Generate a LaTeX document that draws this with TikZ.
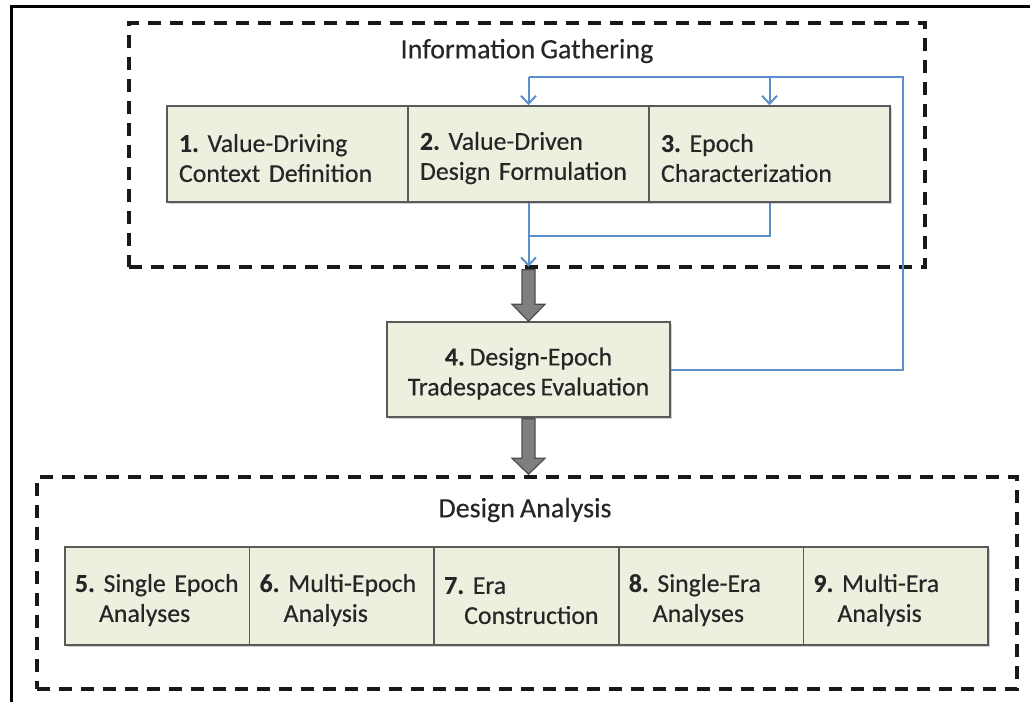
\documentclass[tikz,border=0pt]{standalone}
\usepackage{fontspec}
\setmainfont{Carlito}[WordSpace=0.8, FakeBold=0.35]
\usetikzlibrary{arrows.meta,calc,shadows}
\definecolor{boxfill}{HTML}{EBF1DE}
\definecolor{boxline}{HTML}{5A5A5A}
\definecolor{fbblue}{HTML}{5B8FCB}
\definecolor{gfill}{HTML}{7F7F7F}
\definecolor{gline}{HTML}{4D4D4D}
\newcommand\liftstrut{\rule{0pt}{26pt}}
\frenchspacing
\tikzset{
  groupbox/.style={draw=black!90, line width=3.5pt, dash pattern=on 13pt off 9pt, inner sep=0pt},
  grouptitle/.style={font=\fontsize{28}{32}\selectfont, inner sep=0pt, text=black!85},
  stepbox/.style={draw=boxline, line width=1.6pt, fill=boxfill, inner sep=0pt, text=black!85,
     drop shadow={shadow xshift=1.5pt, shadow yshift=-2pt, fill=black!30, opacity=0.6},
     font=\fontsize{25.8}{30}\selectfont},
  topbox/.style={stepbox, minimum width=241pt, minimum height=96pt, text width=217pt, align=left},
  botbox/.style={stepbox, minimum width=184.6pt, minimum height=98pt, text width=164.6pt, align=left},
  fb/.style={draw=fbblue, line width=2pt},
  fbarrow/.style={fb, -{Straight Barb[length=8pt,width=15pt]}},
  garrow/.style={fill=gfill, draw=gline, line width=1.2pt, line join=miter},
}
\begin{document}
\begin{tikzpicture}[x=1pt,y=-1pt]
\useasboundingbox (0,0) rectangle (1030,702);
% outer frame (left and top edges)
\draw[line width=3pt] (11,702) -- (11,6) -- (1030,6);

% group boxes
\node[groupbox, minimum width=796pt, minimum height=244pt] (ig) at (527,145) {};
\node[grouptitle] (igt) at (527,51) {Information Gathering};
\node[groupbox, minimum width=980pt, minimum height=212pt] (da) at (527,583) {};
\node[grouptitle] (dat) at (525,510) {Design Analysis};

% top row
\node[topbox] (b1) at (287.5,154) {\liftstrut\mbox{\textbf{1.} Value-Driving}\\\mbox{Context Definition}};
\node[topbox] (b2) at (528.5,154) {\liftstrut\mbox{\textbf{2.} Value-Driven}\\\mbox{Design Formulation}};
\node[topbox] (b3) at (769.5,154) {\liftstrut\mbox{\textbf{3.} Epoch}\\\mbox{Characterization}};

% middle box
\node[stepbox, minimum width=283pt, minimum height=95pt, align=center] (b4) at (528.5,369.5)
  {\liftstrut\textbf{4.} Design-Epoch\\Tradespaces Evaluation};

% bottom row
\node[botbox] (b5) at (157.3,596) {\liftstrut\mbox{\textbf{5.} Single Epoch}\\\mbox{\hspace*{24pt}Analyses}};
\node[botbox] (b6) at (341.9,596) {\liftstrut\mbox{\textbf{6.} Multi-Epoch}\\\mbox{\hspace*{24pt}Analysis}};
\node[botbox] (b7) at (526.5,596) {\liftstrut\mbox{\textbf{7.} Era}\\\mbox{\hspace*{20pt}Construction}};
\node[botbox] (b8) at (711.1,596) {\liftstrut\mbox{\textbf{8.} Single-Era}\\\mbox{\hspace*{24pt}Analyses}};
\node[botbox] (b9) at (895.7,596) {\liftstrut\mbox{\textbf{9.} Multi-Era}\\\mbox{\hspace*{24pt}Analysis}};

% blue connectors
\coordinate (igb) at (ig.south -| b2.south);
\coordinate (mid) at ($(b2.south)!0.5!(igb)$);
\draw[fbarrow] (b2.south) -- ($(igb)+(0,-2)$);
\draw[fb] (b3.south) |- (mid);
\coordinate (fbtop) at (903,77);
\draw[fb] (b4.east) -| (fbtop) -- (b2.north |- fbtop);
\draw[fbarrow] (b2.north |- fbtop) -- (b2.north);
\draw[fbarrow] (b3.north |- fbtop) -- (b3.north);

% gray block arrows
\coordinate (g1) at (ig.south -| b4.north);
\draw[garrow] ($(g1)+(-6.5,1)$) -- ($(b4.north)+(-6.5,-17)$) -- ($(b4.north)+(-16.5,-17)$)
  -- (b4.north) -- ($(b4.north)+(16.5,-17)$) -- ($(b4.north)+(6.5,-17)$) -- ($(g1)+(6.5,1)$) -- cycle;
\coordinate (g2) at (da.north -| b4.south);
\draw[garrow] ($(b4.south)+(-6.5,1)$) -- ($(g2)+(-6.5,-17)$) -- ($(g2)+(-16.5,-17)$)
  -- ($(g2)+(0,-1)$) -- ($(g2)+(16.5,-17)$) -- ($(g2)+(6.5,-17)$) -- ($(b4.south)+(6.5,1)$) -- cycle;
\end{tikzpicture}
\end{document}
